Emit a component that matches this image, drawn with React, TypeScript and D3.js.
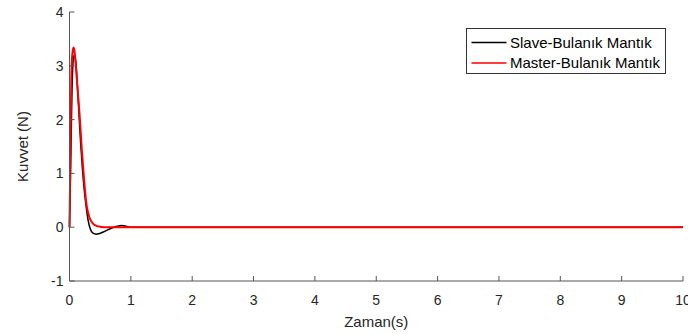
import React from 'react'
import * as d3 from 'd3'

// time (s) and force (N) samples
const slaveT = [0, 0.02, 0.04, 0.06, 0.08, 0.1, 0.12, 0.15, 0.18, 0.21, 0.24, 0.27, 0.3, 0.33, 0.36, 0.4, 0.44, 0.48, 0.55, 0.62, 0.7, 0.78, 0.85, 0.92, 1.0, 1.1, 10];
const slaveF = [0, 1.2, 2.5, 3.1, 3.2, 3.1, 2.8, 2.2, 1.6, 1.1, 0.7, 0.4, 0.15, 0.0, -0.08, -0.12, -0.13, -0.12, -0.09, -0.05, -0.01, 0.02, 0.03, 0.02, 0.0, 0, 0];
const masterT = [0, 0.01, 0.02, 0.03, 0.045, 0.065, 0.08, 0.1, 0.13, 0.17, 0.2, 0.23, 0.26, 0.28, 0.32, 0.36, 0.4, 0.45, 0.5, 0.6, 10];
const masterF = [0, 1.0, 2.0, 2.8, 3.2, 3.34, 3.28, 3.05, 2.6, 2.0, 1.45, 1.0, 0.6, 0.4, 0.2, 0.1, 0.05, 0.02, 0.01, 0, 0];
const xTicks = [0, 1, 2, 3, 4, 5, 6, 7, 8, 9, 10];
const yTicks = [-1, 0, 1, 2, 3, 4];
const seriesNames = ['Slave-Bulanık Mantık', 'Master-Bulanık Mantık'];
const seriesColors = ['#000000', '#ff0000'];

export default function App() {
  const width = 688, height = 334;
  const m = { left: 69.5, right: 5, top: 12, bottom: 53 };
  const x = d3.scaleLinear().domain([0, 10]).range([m.left, width - m.right]);
  const y = d3.scaleLinear().domain([-1, 4]).range([height - m.bottom, m.top]);
  const line = d3.line<[number, number]>().x(d => x(d[0])).y(d => y(d[1])).curve(d3.curveMonotoneX);
  const slave = slaveT.map((t, i) => [t, slaveF[i]] as [number, number]);
  const master = masterT.map((t, i) => [t, masterF[i]] as [number, number]);
  const font = 'Liberation Sans, Arial, sans-serif';
  const axisColor = '#555';
  const y0 = y(-1);
  return (
    <div style={{ position: 'absolute', left: 0, top: 0 }}>
      <svg width={width} height={height} style={{ display: 'block' }} fontFamily={font}>
        <rect width={width} height={height} fill="#fff" />
        <path d={line(slave) || ''} fill="none" stroke={seriesColors[0]} strokeWidth={1.5} />
        <path d={line(master) || ''} fill="none" stroke={seriesColors[1]} strokeWidth={2} />
        {/* axes */}
        <line x1={x(0)} x2={x(0)} y1={y(4)} y2={y0} stroke={axisColor} strokeWidth={1} />
        <line x1={x(0)} x2={x(10)} y1={y0} y2={y0} stroke={axisColor} strokeWidth={1} />
        {yTicks.map(v => (
          <g key={'y' + v}>
            <line x1={x(0)} x2={x(0) + 5} y1={y(v)} y2={y(v)} stroke={axisColor} />
            <text x={x(0) - 6} y={y(v)} dy="0.36em" textAnchor="end" fontSize={14} fill="#262626">{v}</text>
          </g>
        ))}
        {xTicks.map(v => (
          <g key={'x' + v}>
            <line x1={x(v)} x2={x(v)} y1={y0} y2={y0 - 5} stroke={axisColor} />
            <text x={x(v)} y={y0 + 24} textAnchor="middle" fontSize={14} fill="#262626">{v}</text>
          </g>
        ))}
        <text x={(x(0) + x(10)) / 2} y={y0 + 46} textAnchor="middle" fontSize={15} fill="#262626">Zaman(s)</text>
        <text transform={`translate(28,${(y(4) + y0) / 2}) rotate(-90)`} textAnchor="middle" fontSize={15} fill="#262626">Kuvvet (N)</text>
        {/* legend */}
        <rect x={466.5} y={28.5} width={199} height={45} fill="#fff" stroke="#333" strokeWidth={1} />
        {seriesNames.map((n, i) => (
          <g key={n} transform={`translate(0,${42.5 + i * 20.5})`}>
            <line x1={471.5} x2={506.5} y1={0} y2={0} stroke={seriesColors[i]} strokeWidth={1.5} />
            <text x={510} y={0} dy="0.36em" fontSize={15} fill="#000">{n}</text>
          </g>
        ))}
      </svg>
    </div>
  )
}
